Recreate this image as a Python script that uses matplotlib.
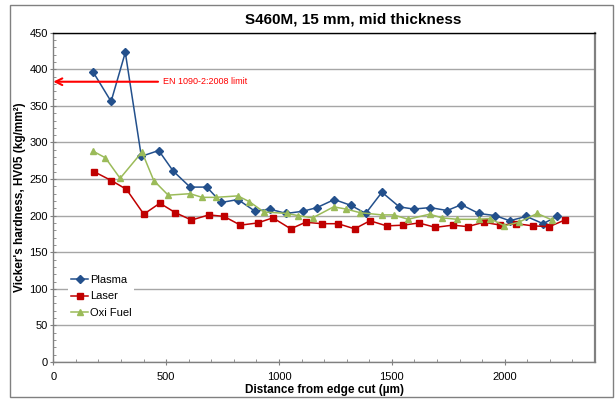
import matplotlib
matplotlib.use("Agg")
import matplotlib.pyplot as plt
from matplotlib.patches import Rectangle
from matplotlib.ticker import MultipleLocator

plt.rcParams['font.family'] = ['Liberation Sans', 'DejaVu Sans']

plasma_x = [177, 256, 319, 390, 467, 531, 606, 680, 744, 818, 894, 958, 1032, 1106, 1168,
            1245, 1319, 1384, 1456, 1533, 1596, 1670, 1745, 1808, 1885, 1959, 2022, 2096, 2170, 2232]
plasma_y = [396, 356, 423, 281, 289, 261, 239, 239, 218, 222, 206, 209, 203, 206, 211,
            222, 214, 203, 232, 212, 209, 211, 207, 215, 203, 200, 193, 199, 189, 199]

laser_x = [181, 257, 324, 401, 472, 541, 612, 689, 756, 829, 905, 973, 1052, 1118, 1190,
           1261, 1335, 1403, 1477, 1551, 1619, 1693, 1769, 1836, 1907, 1981, 2052, 2126, 2198, 2266]
laser_y = [260, 248, 236, 202, 217, 204, 194, 201, 199, 187, 190, 197, 182, 191, 189,
           189, 182, 193, 186, 187, 190, 184, 187, 185, 191, 187, 189, 186, 185, 194]

oxi_x = [177, 231, 296, 393, 445, 509, 606, 659, 720, 818, 869, 933, 1035, 1085, 1149,
         1242, 1297, 1360, 1456, 1508, 1572, 1667, 1722, 1789, 1885, 1934, 1999, 2062, 2144, 2210]
oxi_y = [288, 279, 251, 287, 248, 228, 230, 225, 225, 227, 219, 205, 203, 200, 197,
         212, 209, 204, 201, 201, 195, 202, 197, 195, 195, 196, 186, 191, 203, 194]

limit_value = 383
title = "S460M, 15 mm, mid thickness"
xlabel = "Distance from edge cut (µm)"
ylabel = "Vicker's hardness, HV05 (kg/mm²)"
limit_text = "EN 1090-2:2008 limit"

fig = plt.figure(figsize=(6.15, 3.99), dpi=100)
# outer chart frame
fig.patches.append(Rectangle((10/615, 1-397/399), 603/615, 392/399, transform=fig.transFigure,
                             fill=False, edgecolor='#808080', linewidth=1.0))

ax = fig.add_axes([53.3/615, 1-362/399, (595-53.3)/615, (362-32.7)/399])
ax.set_xlim(0, 2400)
ax.set_ylim(0, 450)

ax.xaxis.set_major_locator(MultipleLocator(500))
ax.xaxis.set_minor_locator(MultipleLocator(100))
ax.yaxis.set_major_locator(MultipleLocator(50))
ax.yaxis.set_minor_locator(MultipleLocator(10))
ax.set_xticks([0, 500, 1000, 1500, 2000])
ax.grid(axis='y', which='major', color='#A6A6A6', linewidth=1.0)
ax.set_axisbelow(True)

ax.tick_params(axis='both', which='major', labelsize=8, color='#808080', length=4, direction='inout', pad=2)
ax.tick_params(axis='both', which='minor', color='#808080', length=2.5, direction='in')
ax.tick_params(axis='x', which='major', pad=5)

for s in ['left', 'bottom']:
    ax.spines[s].set_color('#808080')
    ax.spines[s].set_linewidth(1.0)
ax.spines['top'].set_color('#000000')
ax.spines['top'].set_linewidth(1.0)
ax.spines['right'].set_color('#808080')
ax.spines['right'].set_linewidth(1.6)

ax.plot(plasma_x, plasma_y, color='#23508C', marker='D', markersize=4.0, linewidth=1.1, label='Plasma', clip_on=False)
ax.plot(laser_x, laser_y, color='#C00000', marker='s', markersize=4.6, linewidth=1.1, label='Laser', clip_on=False)
ax.plot(oxi_x, oxi_y, color='#9BBB59', marker='^', markersize=4.6, linewidth=1.1, label='Oxi Fuel', clip_on=False)

ax.annotate('', xy=(0, limit_value), xytext=(464, limit_value),
            arrowprops=dict(arrowstyle='->', color='#FF0000', linewidth=1.5, mutation_scale=12,
                            shrinkA=0, shrinkB=0))
ax.text(484, limit_value, limit_text, color='#FF0000', fontsize=6.5, va='center', ha='left')

fig.text(353/615, 1-20/399, title, fontsize=11, fontweight='bold', ha='center', va='center')
ax.set_xlabel(xlabel, fontsize=8.5, fontweight='bold', labelpad=2)
ax.set_ylabel(ylabel, fontsize=8.5, fontweight='bold')
ax.yaxis.set_label_coords(-0.051, 0.5)

leg = ax.legend(loc='upper left', bbox_to_anchor=(0.028, 0.27), fontsize=8, frameon=True,
                handlelength=1.6, handletextpad=0.15, labelspacing=0.55, borderpad=0.2,
                borderaxespad=0)
leg.get_frame().set_facecolor('white')
leg.get_frame().set_edgecolor('none')
leg.get_frame().set_alpha(1.0)

fig.savefig('out.png', dpi=100)
